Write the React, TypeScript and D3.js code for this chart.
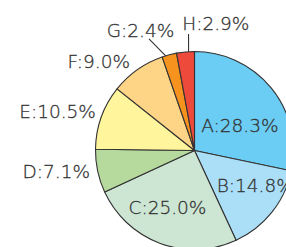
import React, { useEffect, useRef } from "react";
import * as d3 from "d3";

const categories = ["A", "B", "C", "D", "E", "F", "G", "H"];
const shares = [28.3, 14.8, 25.0, 7.1, 10.5, 9.0, 2.4, 2.9];
const colors = ["#6ccdf4", "#abdff8", "#cde6d4", "#b6d99e", "#fff59c", "#fed586", "#f6921e", "#ee4a3b"];

// label placement: "at" = fraction along the slice, k = radius factor
const labelPlacement = [
  { mode: "in", at: 0.5, k: 0.5, dx: 7, dy: 13, anchor: "middle" },
  { mode: "in", at: 0.5, k: 0.5, dx: 22, dy: 10.5, anchor: "middle" },
  { mode: "in", at: 0.5, k: 0.5, dx: -10, dy: 17, anchor: "middle" },
  { mode: "out", at: 0.5, k: 1, dx: -7.7, dy: 6.5, anchor: "end" },
  { mode: "out", at: 0.5, k: 1, dx: -5.3, dy: 1, anchor: "end" },
  { mode: "out", at: 0.5, k: 1, dx: -7.3, dy: -2, anchor: "end" },
  { mode: "leader", at: 0.25, k: 1, lx: -16.7, ly: -17, dx: -8.5, dy: -2, anchor: "middle" },
  { mode: "leader", at: 0.67, k: 1, lx: 0, ly: -17.7, dx: 27.3, dy: -3.7, anchor: "middle" },
];

type Datum = { name: string; value: number; color: string };

const App: React.FC = () => {
  const ref = useRef<SVGSVGElement>(null);

  useEffect(() => {
    const width = 286;
    const height = 247;
    const cx = 194.5;
    const cy = 150.5;
    const radius = 99;

    const data: Datum[] = categories.map((c, i) => ({ name: c, value: shares[i], color: colors[i] }));

    const pie = d3.pie<Datum>().value((d) => d.value).sort(null);
    const arcs = pie(data);
    const arc = d3.arc<d3.PieArcDatum<Datum>>().innerRadius(0).outerRadius(radius);

    const svg = d3.select(ref.current).attr("width", width).attr("height", height);
    svg.selectAll("*").remove();

    const g = svg.append("g").attr("transform", `translate(${cx},${cy})`);

    g.selectAll("path")
      .data(arcs)
      .join("path")
      .attr("d", arc)
      .attr("fill", (d) => d.data.color)
      .attr("stroke", "#333")
      .attr("stroke-width", 1.1)
      .attr("stroke-linejoin", "round");

    const polar = (a: number, r: number): [number, number] => [r * Math.sin(a), -r * Math.cos(a)];

    arcs.forEach((d, i) => {
      const p = labelPlacement[i];
      const a = d.startAngle + (d.endAngle - d.startAngle) * p.at;
      let [x, y] = polar(a, radius * p.k);
      if (p.mode === "leader") {
        const x2 = x + (p.lx ?? 0);
        const y2 = y + (p.ly ?? 0);
        g.append("line")
          .attr("x1", x)
          .attr("y1", y)
          .attr("x2", x2)
          .attr("y2", y2)
          .attr("stroke", "#333")
          .attr("stroke-width", 1.1);
        x = x2;
        y = y2;
      }
      g.append("text")
        .attr("x", x + p.dx)
        .attr("y", y + p.dy)
        .attr("text-anchor", p.anchor)
        .attr("fill", "#333")
        .attr("stroke", "#333")
        .attr("stroke-width", 0.3)
        .style("font-family", "'DejaVu Sans', sans-serif")
        .style("font-weight", 200)
        .style("font-size", "18.5px")
        .text(`${d.data.name}:${d.data.value.toFixed(1)}%`);
    });
  }, []);

  return <svg ref={ref} style={{ position: "absolute", left: 0, top: 0, display: "block" }} />;
};

export default App;
